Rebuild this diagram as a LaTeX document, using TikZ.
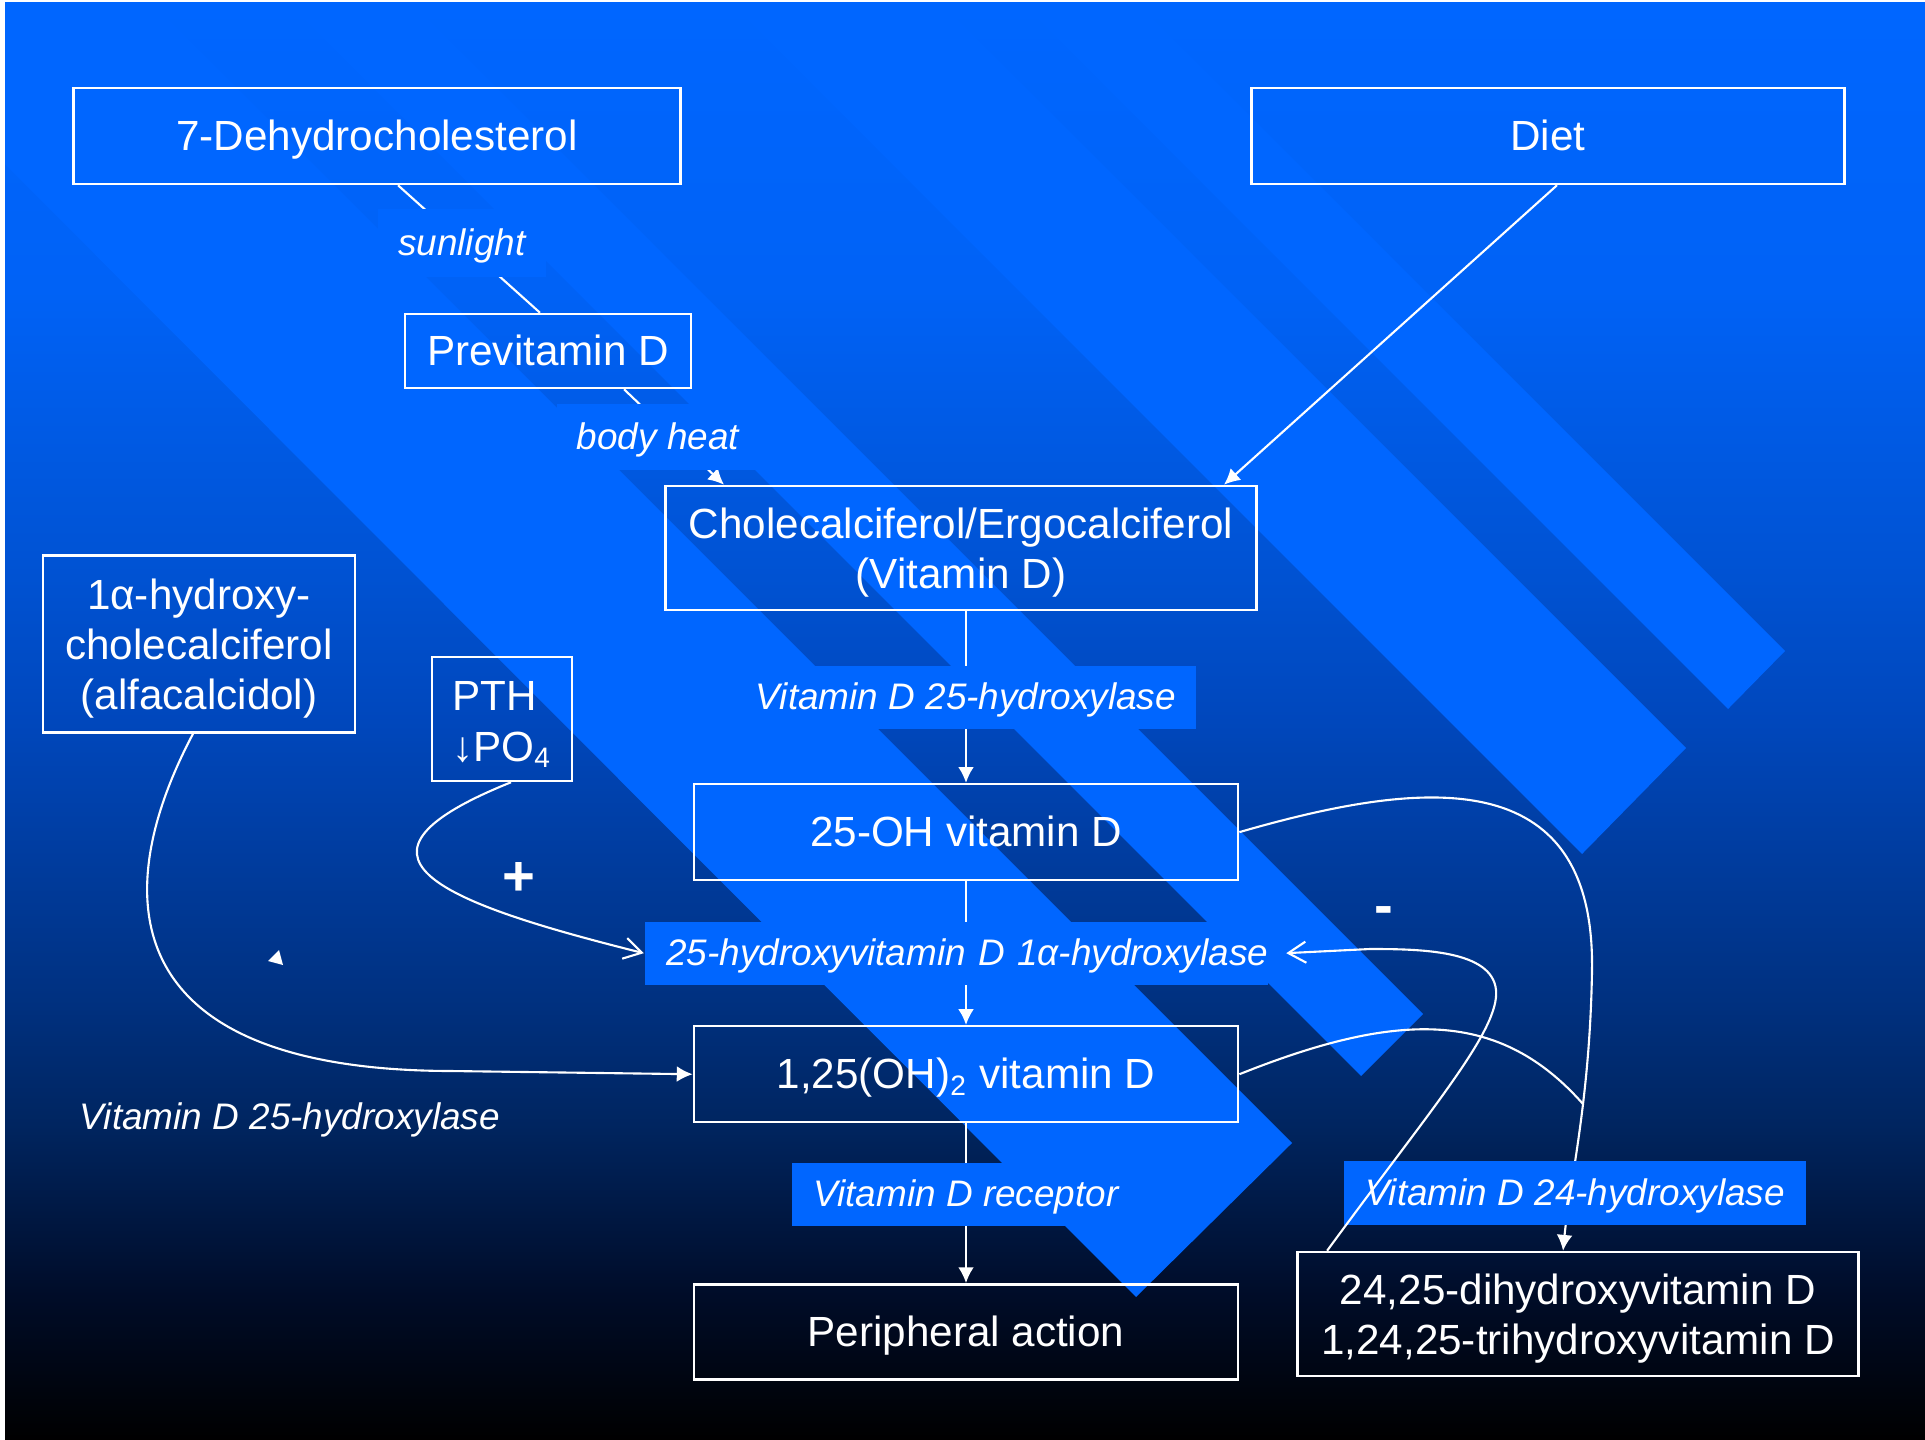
\documentclass[tikz,border=0pt]{standalone}
\usepackage{fontspec}
\setmainfont{Liberation Sans}
\usetikzlibrary{calc}
\usetikzlibrary{positioning}
\usetikzlibrary{arrows.meta}

\definecolor{vblue}{HTML}{0066FF}
\definecolor{bgA}{HTML}{0062F6}
\definecolor{bgB}{HTML}{0052D2}
\definecolor{bgC}{HTML}{0047BC}
\definecolor{bgD}{HTML}{00307E}
\definecolor{bgE}{HTML}{002560}
\definecolor{bgF}{HTML}{000C28}
\pgfdeclareverticalshading{slidebg}{100bp}{color(0bp)=(black); color(25bp)=(black); color(30bp)=(bgF); color(36bp)=(bgE); color(40bp)=(bgD); color(50bp)=(bgC); color(55bp)=(bgB); color(65bp)=(bgA); color(75bp)=(vblue); color(100bp)=(vblue)}

% strut for the first line of boxes with several lines
\newcommand{\topstrut}{\rule{0pt}{11.4pt}}

\begin{document}
\begin{tikzpicture}[x=0.01cm, y=-0.01cm,
    box/.style={rectangle, draw=white, line width=0.7pt, text=white, align=center, inner sep=0pt,
        font=\fontsize{12}{14.3}\selectfont},
    oneline/.style={text height=8.3pt, text depth=0pt},
    enz/.style={rectangle, fill=vblue, text=white, inner xsep=0.2cm, inner ysep=0pt, minimum height=0.63cm,
        text height=7.2pt, text depth=0pt, font=\fontsize{10.5}{12.6}\selectfont\itshape},
    link/.style={draw=white, line width=0.6pt},
    fwd/.style={-{Latex[length=4.5pt,width=4.5pt]}},
    barb/.style={-{Straight Barb[length=5pt,width=6pt]}}]

    % Background and ribbons
    \fill[white] (0,0) rectangle (1925,1440);
    \shade[shading=slidebg] (5,3) rectangle (1925,1440);
    \begin{scope}
        \clip (5,3) rectangle (1925,1440);
        \fill[vblue] (49,-100) -- (1292,1143) -- (1136,1297) -- (-259,-100) -- cycle;
        \fill[vblue] (309,-100) -- (1423,1014) -- (1361,1076) -- (185,-100) -- cycle;
        \fill[vblue] (838,-100) -- (1686,748) -- (1582,854) -- (628,-100) -- cycle;
        \fill[vblue] (1034,-100) -- (1785,651) -- (1728,709) -- (919,-100) -- cycle;
    \end{scope}

    % Define nodes
    \node[box, oneline, minimum width=6.07cm, minimum height=0.96cm] (dehydro) at (377,136) {7-Dehydrocholesterol};
    \node[box, oneline, minimum width=5.93cm, minimum height=0.96cm] (diet) at (1548,136) {Diet};
    \node[box, oneline, minimum width=2.86cm, minimum height=0.74cm] (previt) at (548,351) {Previtamin D};
    \node[box, minimum width=5.91cm, minimum height=1.24cm] (chole) at (961,548) {\topstrut Cholecalciferol/Ergocalciferol\\(Vitamin D)};
    \coordinate (cbot) at ($(chole.south)+(5,0)$);
    \node[box, oneline, minimum width=5.44cm, minimum height=0.96cm, below=1.715cm of cbot] (oh25) {25-OH vitamin D};
    \node[box, oneline, minimum width=5.44cm, minimum height=0.96cm, below=1.435cm of oh25] (c125) {1,25(OH)\textsubscript{2} vitamin D};
    \node[box, oneline, minimum width=5.44cm, minimum height=0.95cm, below=1.595cm of c125] (periph) {Peripheral action};
    \node[box, minimum width=3.12cm, minimum height=1.77cm] (alfa) at (199,644) {\topstrut 1α-hydroxy-\\cholecalciferol\\(alfacalcidol)};
    \node[box, align=left, minimum width=1.40cm, minimum height=1.24cm] (pth) at (502,719) {\topstrut PTH\\↓PO\textsubscript{4}};
    \node[box, minimum width=5.61cm, minimum height=1.24cm] (d2425) at (1578,1314) {\topstrut 24,25-dihydroxyvitamin D\\1,24,25-trihydroxyvitamin D};

    % Connect the nodes
    \draw[link] ($(dehydro.south)+(21,0)$) -- node[enz, pos=0.45, minimum height=0.68cm] (sun) {sunlight} ($(previt.north)+(-8,0)$);
    \draw[link, fwd] ($(previt.south)+(76,0)$) -- node[enz, xshift=-0.16cm, minimum height=0.66cm] (heat) {body heat} ($(chole.north)+(-237,0)$);
    \draw[link, fwd] ($(diet.south)+(9,0)$) -- ($(chole.north)+(263,0)$);
    \draw[link, fwd] (cbot) -- node[enz, minimum width=4.58cm] (hyd25) {Vitamin D 25-hydroxylase} (oh25);
    \draw[link, fwd] (oh25) -- node[enz, inner xsep=0pt, text width=6.23cm, align=right, xshift=-0.095cm] (hyd1) {25-hydroxyvitamin D 1α-hydroxylase} (c125);
    \draw[link, fwd] (c125) -- node[enz, minimum width=3.47cm, yshift=0.09cm] (vdr) {Vitamin D receptor} (periph);

    \draw[link, barb] ($(pth.south)+(9,0)$) .. controls (330,855) and (430,900) .. (hyd1.west);
    \draw[link, fwd] ($(alfa.south)+(-6,0)$) .. controls (105,900) and (120,1070) .. (450,1071) -- (c125.west);
    \draw[link, fwd] (oh25.east) .. controls (1420,780) and (1595,760) .. (1592,970)
        .. controls (1590,1100) and (1570,1180) .. ($(d2425.north)+(-15,0)$);
    \coordinate (join) at (1583,1104);
    \draw[link] (c125.east) .. controls (1400,1010) and (1500,1010) .. (join);
    \node[enz, minimum width=4.62cm] (hyd24) at (1575,1193) {Vitamin D 24-hydroxylase};
    \draw[link, barb] ($(d2425.north west)+(31,0)$) .. controls (1430,1110) and (1500,1030) .. (1496,990)
        .. controls (1492,950) and (1420,949) .. (1370,949) -- ($(hyd1.east)+(17,0)$);

    % Signs and loose labels
    \node[text=white, text height=7.2pt, text depth=0pt, font=\fontsize{10.5}{12.6}\selectfont\itshape] (hyd25b) at (290,1117) {Vitamin D 25-hydroxylase};
    \node[text=white, font=\fontsize{16}{16}\selectfont\bfseries] (plus) at (519,879) {+};
    \node[text=white, font=\fontsize{16}{16}\selectfont\bfseries] (minus) at (1384,916) {-};
    \fill[white] (268,961) -- (283,965) -- (279,950) -- cycle;

\end{tikzpicture}
\end{document}
